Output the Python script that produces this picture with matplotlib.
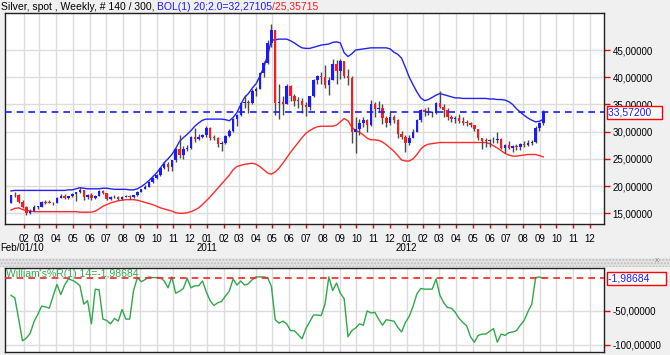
import matplotlib
matplotlib.use('Agg')
import matplotlib.pyplot as plt
import matplotlib.dates as mdates
import matplotlib.transforms as mtransforms
from matplotlib.patches import Rectangle
import numpy as np
import pandas as pd

plt.rcParams['font.family'] = ['Liberation Sans', 'DejaVu Sans']
plt.rcParams['font.size'] = 7

# ---- data (weekly silver spot bars, Friday dates) ----
week_start = '2010-01-08'
n_bars = 140

opens = [16.95, 18.38, 18.30, 17.10, 16.20, 15.00, 15.50, 16.10, 16.20, 17.10,
         16.95, 16.90, 16.80, 17.85, 18.20, 17.80, 18.10, 18.55, 18.95, 19.25,
         17.90, 18.40, 17.75, 18.20, 19.10, 18.70, 17.65, 18.00, 17.90, 17.70,
         18.00, 18.20, 18.00, 18.30, 19.00, 19.45, 19.90, 20.80, 21.40, 22.05,
         23.35, 24.10, 23.50, 24.75, 26.80, 25.80, 26.90, 27.00, 28.95, 28.60,
         28.95, 29.30, 30.60, 28.90, 28.80, 27.80, 27.90, 29.20, 30.15, 32.35,
         33.00, 35.30, 35.40, 35.20, 37.50, 37.90, 40.70, 42.60, 46.20, 48.60,
         35.30, 35.40, 35.10, 38.30, 36.50, 35.70, 35.60, 34.90, 34.50, 36.50,
         39.50, 40.20, 40.10, 38.60, 39.50, 42.50, 41.20, 42.90, 40.20, 39.80,
         30.00, 30.50, 31.50, 32.10, 31.30, 35.10, 34.20, 34.40, 32.50, 31.50,
         32.70, 32.10, 29.50, 29.00, 27.90, 28.90, 30.00, 32.20, 33.90, 33.70,
         33.40, 33.50, 35.30, 34.60, 34.00, 32.60, 32.40, 32.50, 32.00, 31.60,
         31.55, 31.20, 30.40, 28.80, 28.30, 28.25, 28.50, 28.40, 28.70, 27.00,
         27.50, 27.00, 27.30, 27.10, 27.80, 27.50, 28.00, 28.10, 30.70, 31.60]
highs = [18.45, 18.85, 18.55, 17.35, 16.30, 15.75, 16.45, 16.35, 17.20, 17.35,
         17.35, 17.10, 17.95, 18.50, 18.60, 18.25, 18.70, 19.00, 19.85, 19.35,
         18.60, 18.65, 18.35, 19.25, 19.30, 18.75, 18.20, 18.40, 18.10, 18.15,
         18.45, 18.40, 18.40, 19.05, 19.55, 20.20, 20.95, 21.60, 22.25, 23.55,
         24.50, 24.45, 24.85, 27.00, 29.30, 27.40, 27.60, 29.20, 30.70, 29.60,
         29.50, 30.95, 30.80, 29.40, 29.00, 28.20, 29.40, 30.40, 32.50, 33.20,
         35.40, 36.70, 35.80, 37.80, 38.20, 41.00, 43.00, 46.80, 49.80, 48.70,
         38.70, 36.60, 38.70, 38.50, 37.00, 36.40, 36.20, 35.40, 36.60, 39.70,
         40.40, 40.90, 42.30, 40.00, 43.40, 43.20, 43.40, 43.00, 41.50, 40.20,
         32.70, 32.40, 32.60, 32.30, 35.80, 35.40, 35.60, 35.00, 32.90, 33.60,
         33.00, 32.30, 30.10, 29.30, 29.40, 30.50, 32.40, 34.20, 34.40, 34.60,
         33.80, 35.50, 37.50, 35.00, 34.40, 33.00, 32.80, 33.20, 32.60, 32.20,
         31.80, 31.30, 30.50, 28.90, 28.90, 28.60, 29.10, 29.90, 28.90, 27.80,
         28.30, 27.60, 27.80, 28.00, 28.20, 28.50, 28.40, 31.00, 31.80, 33.90]
lows = [16.85, 17.95, 16.95, 16.05, 14.65, 14.95, 15.40, 15.70, 16.10, 16.70,
        16.80, 16.45, 16.80, 17.75, 17.60, 17.65, 17.95, 17.30, 18.80, 17.40,
        17.60, 17.40, 17.60, 18.15, 18.55, 17.45, 17.50, 17.85, 17.40, 17.35,
        17.90, 17.65, 17.80, 18.10, 18.90, 19.40, 19.80, 20.60, 21.30, 21.80,
        23.20, 22.75, 22.80, 24.50, 25.10, 24.90, 26.40, 26.80, 28.10, 28.40,
        28.80, 29.00, 28.50, 28.50, 27.25, 26.40, 27.80, 29.00, 30.00, 31.00,
        32.90, 34.40, 33.40, 35.10, 36.60, 37.80, 40.00, 42.40, 45.50, 33.00,
        32.30, 33.10, 35.00, 35.70, 34.70, 34.40, 33.40, 32.90, 34.00, 36.30,
        38.80, 38.70, 38.00, 36.80, 39.40, 38.70, 39.70, 39.80, 38.50, 28.00,
        26.10, 29.30, 30.90, 29.90, 31.00, 32.60, 33.70, 31.40, 30.80, 31.30,
        31.50, 28.90, 28.60, 26.20, 27.60, 28.80, 29.90, 31.80, 32.90, 33.00,
        32.60, 33.20, 34.40, 32.60, 32.20, 31.80, 31.50, 31.50, 31.20, 31.10,
        30.80, 30.20, 28.40, 26.80, 27.20, 27.20, 27.90, 28.00, 26.90, 26.10,
        26.80, 26.30, 26.60, 26.60, 27.10, 27.40, 27.60, 28.00, 30.10, 31.30]
closes = [18.38, 18.30, 17.10, 16.20, 15.00, 15.50, 16.10, 16.20, 17.10, 16.95,
          16.90, 16.80, 17.85, 18.20, 17.80, 18.10, 18.55, 18.95, 19.25, 17.90,
          18.40, 17.75, 18.20, 19.10, 18.70, 17.65, 18.00, 17.90, 17.70, 18.00,
          18.20, 18.00, 18.30, 19.00, 19.45, 19.90, 20.80, 21.40, 22.05, 23.35,
          24.10, 23.50, 24.75, 26.80, 25.80, 26.90, 27.00, 28.95, 28.60, 28.95,
          29.30, 30.60, 28.90, 28.80, 27.80, 27.90, 29.20, 30.15, 32.35, 33.00,
          35.30, 35.40, 35.20, 37.50, 37.90, 40.70, 42.60, 46.20, 48.60, 35.30,
          35.40, 35.10, 38.30, 36.50, 35.70, 35.60, 34.90, 34.50, 36.50, 39.50,
          40.20, 40.10, 38.60, 39.50, 42.50, 41.20, 42.90, 40.20, 39.80, 30.00,
          30.50, 31.50, 32.10, 31.30, 35.10, 34.20, 34.40, 32.50, 31.50, 32.70,
          32.10, 29.50, 29.00, 27.90, 28.90, 30.00, 32.20, 33.90, 33.70, 33.40,
          33.50, 35.30, 34.60, 34.00, 32.60, 32.40, 32.50, 32.00, 31.60, 31.55,
          31.20, 30.40, 28.80, 28.30, 28.25, 28.50, 28.40, 28.70, 27.00, 27.50,
          27.00, 27.30, 27.10, 27.80, 27.50, 28.00, 28.10, 30.70, 31.60, 33.572]

# Bollinger bands (20; 2.0)
bol_upper = [19.1, 19.2, 19.2, 19.2, 19.2, 19.2, 19.2, 19.2, 19.2, 19.2,
             19.2, 19.2, 19.2, 19.2, 19.2, 19.3, 19.3, 19.5, 19.7, 19.6,
             19.5, 19.5, 19.5, 19.5, 19.6, 19.6, 19.5, 19.4, 19.4, 19.4,
             19.4, 19.3, 19.3, 19.5, 19.9, 20.4, 21.0, 21.7, 22.4, 23.3,
             24.3, 25.0, 25.8, 26.9, 28.2, 28.9, 29.5, 30.2, 31.0, 31.6,
             32.1, 32.3, 32.3, 32.3, 32.3, 32.3, 32.2, 32.0, 32.6, 33.5,
             35.0, 36.3, 37.0, 38.0, 38.8, 40.2, 41.8, 44.0, 46.8, 46.9,
             47.0, 47.0, 47.0, 46.7, 46.3, 45.8, 45.4, 45.3, 45.3, 45.5,
             45.7, 45.9, 46.0, 46.1, 46.4, 46.5, 46.3, 44.5, 43.8, 44.3,
             45.0, 45.1, 45.2, 45.3, 45.4, 45.4, 45.4, 45.4, 45.4, 45.2,
             44.6, 44.2, 43.5, 41.8, 40.0, 38.6, 37.3, 36.2, 35.7, 35.9,
             36.3, 36.7, 37.0, 36.8, 36.6, 36.4, 36.2, 36.2, 36.1, 36.1,
             36.1, 36.1, 36.1, 36.1, 36.1, 36.0, 36.0, 35.9, 35.9, 35.8,
             35.5, 35.0, 34.2, 33.6, 33.0, 32.5, 32.1, 31.8, 31.9, 32.27105]
bol_lower = [15.6, 15.9, 16.0, 15.7, 15.5, 15.4, 15.3, 15.3, 15.3, 15.3,
             15.3, 15.3, 15.3, 15.3, 15.3, 15.3, 15.3, 15.3, 15.2, 15.2,
             15.2, 15.2, 15.4, 15.8, 16.3, 16.6, 16.9, 17.1, 17.3, 17.4,
             17.5, 17.5, 17.5, 17.4, 17.2, 17.0, 16.8, 16.6, 16.3, 16.0,
             15.8, 15.6, 15.4, 15.1, 15.0, 15.0, 15.1, 15.3, 15.6, 16.0,
             16.6, 17.3, 18.0, 18.8, 19.6, 20.4, 21.2, 22.0, 23.0, 23.6,
             23.8, 24.0, 24.1, 24.2, 24.0, 23.6, 23.0, 22.4, 22.2, 22.6,
             23.3, 24.2, 25.2, 26.2, 27.1, 28.0, 28.9, 29.7, 30.2, 30.6,
             30.9, 31.0, 31.0, 31.0, 31.0, 31.2, 31.8, 32.4, 32.0, 30.8,
             30.2, 29.9, 29.4, 28.8, 28.5, 28.5, 28.4, 28.1, 27.6, 27.0,
             26.4, 25.6, 24.8, 24.6, 24.6, 25.0, 25.8, 26.8, 27.4, 27.7,
             27.8, 27.9, 28.0, 28.0, 28.0, 28.0, 28.0, 28.0, 28.0, 28.0,
             28.0, 28.0, 28.0, 28.0, 28.0, 27.8, 27.4, 27.0, 26.5, 26.0,
             25.7, 25.5, 25.5, 25.6, 25.7, 25.8, 25.8, 25.8, 25.6, 25.35715]

# Williams %R (14)
will_r = [-27, -31, -62, -94, -90, -83, -66, -55, -43, -44,
          -46, -28, -11, -26, -12, -3, -5, -8, -13, -40,
          -35, -69, -18, -19, -62, -64, -69, -61, -65, -48,
          -62, -62, -20, -1, -7, -4, 0, -1, -1, -1,
          -6, -16, 0, -24, -21, -17, -2, -16, -13, -13,
          -6, -22, -35, -42, -38, -36, -28, -21, -3, -12,
          -6, -12, -10, -4, 0, 0, 0, -1, -14, -63,
          -68, -65, -69, -79, -79, -85, -91, -76, -66, -56,
          -56, -57, -40, 0, -20, -9, -24, -32, -88, -79,
          -75, -69, -71, -50, -53, -52, -62, -71, -63, -64,
          -65, -74, -81, -67, -58, -43, -25, -17, -18, -18,
          -18, -3, -27, -38, -45, -46, -52, -61, -67, -72,
          -88, -96, -86, -84, -84, -80, -76, -96, -84, -86,
          -82, -81, -79, -71, -64, -51, -40, -1, 0, -1.98684]

price_ticks = [15, 20, 25, 30, 35, 40, 45]
wr_ticks = [-50, -100]
last_price = closes[-1]
last_wr = will_r[-1]

def fmt(v):
    return ('%.5f' % v).replace('.', ',')

# ---- figure ----
W, H = 670, 355
fig = plt.figure(figsize=(W / 100, H / 100), dpi=100, facecolor='#f0f0f0')

def px_box(l, t, r, b):
    return [l / W, 1 - b / H, (r - l) / W, (b - t) / H]

ax = fig.add_axes(px_box(5, 13, 604, 224))
ax2 = fig.add_axes(px_box(5, 268, 604, 352))

dates = pd.date_range(week_start, periods=n_bars, freq='7D')
x = mdates.date2num(dates)
o = np.array(opens); h = np.array(highs); l = np.array(lows); c = np.array(closes)

xmin = mdates.date2num(pd.Timestamp('2009-12-28'))
xmax = mdates.date2num(pd.Timestamp('2012-12-27'))
months = mdates.date2num(pd.date_range('2010-02-01', '2012-12-01', freq='MS'))

for a in (ax, ax2):
    a.set_facecolor('white')
    a.set_xlim(xmin, xmax)
    a.set_xticks(months)
    a.grid(True, color='#dcdcdc', lw=1)
    a.set_axisbelow(True)
    a.yaxis.tick_right()
    a.tick_params(axis='both', colors='red', labelcolor='black', length=4, width=1,
                  direction='out', labelsize=7, pad=2)
    for s in a.spines.values():
        s.set_color('#202020')
        s.set_linewidth(1)

# main panel
ax.set_ylim(13.03, 51.8)
ax.set_yticks(price_ticks)
ax.set_yticklabels([fmt(v) for v in price_ticks])
ax.set_xticklabels([d.strftime('%m') for d in mdates.num2date(months)])
ax.tick_params(axis='x', length=3, pad=4)

ax.plot(x, bol_upper, color='#2222ee', lw=1, zorder=2)
ax.plot(x, bol_lower, color='#ff2a2a', lw=1, zorder=2)

up = c >= o
body = np.abs(c - o)
body = np.where(body < 0.15, 0.15, body)
ax.vlines(x, l, h, color='#4a4a4a', lw=1, zorder=3)
ax.bar(x[up], body[up], bottom=np.minimum(o, c)[up], width=4.6, color='#1a1aff', zorder=4)
ax.bar(x[~up], body[~up], bottom=np.minimum(o, c)[~up], width=4.6, color='#ff1a1a', zorder=4)

ax.axhline(last_price, color='#1a1aff', lw=1.2, ls=(0, (4, 3)), zorder=5)
ax.text(1.007, last_price, fmt(last_price) + '   ', transform=mtransforms.blended_transform_factory(ax.transAxes, ax.transData),
        ha='left', va='center', color='#1a1aff', fontsize=7.5,
        bbox=dict(boxstyle='square,pad=0.15', fc='white', ec='red', lw=1), clip_on=False)

# lower panel
ax2.set_ylim(-110.4, 13.1)
ax2.set_yticks(wr_ticks)
ax2.set_yticklabels([fmt(v) for v in wr_ticks])
ax2.set_xticklabels([])
ax2.tick_params(axis='x', length=0)
ax2.plot(x, will_r, color='#2fa84a', lw=1, zorder=3)
ax2.axhline(last_wr, color='#ff2020', lw=1.2, ls=(0, (4, 3)), zorder=4)
ax2.text(1.007, last_wr, fmt(last_wr) + '     ', transform=mtransforms.blended_transform_factory(ax2.transAxes, ax2.transData),
         ha='left', va='center', color='#1a1aff', fontsize=7.5,
         bbox=dict(boxstyle='square,pad=0.15', fc='white', ec='red', lw=1), clip_on=False)
ax2.text(0.002, 0.93, "William's%R(1) 14=" + fmt(last_wr).replace(',', ',', 1), transform=ax2.transAxes,
         ha='left', va='center', color='#2fa84a', fontsize=7.5, zorder=5)

# date captions under the months
yt = mtransforms.blended_transform_factory(ax.transData, fig.transFigure)
fig.text(0.0, 1 - 248 / H, 'Feb/01/10', ha='left', va='center', fontsize=7)
for yr in ['2011', '2012']:
    ax.text(mdates.date2num(pd.Timestamp(yr + '-01-01')), 1 - 248 / H, yr, transform=yt,
            ha='center', va='center', fontsize=7, clip_on=False)

# dotted separator strip
fig.add_artist(Rectangle((0, 1 - 267 / H), 1, 9 / H, transform=fig.transFigure,
                         facecolor='#e4e4e4', edgecolor='#bdbdbd', hatch='.....', lw=0))
fig.text(657 / W, 1 - 261 / H, 'x', color='#888888', fontsize=6, ha='center', va='center')

# header with coloured parts
r = fig.canvas.get_renderer()
xpos = 1 / W
for s, col in [('Silver, spot , Weekly, # 140 / 300, ', 'black'),
               ('BOL(1) 20;2.0=' + fmt(bol_upper[-1]), '#1a1aff'),
               ('/' + fmt(bol_lower[-1]), '#ff1a1a')]:
    t = fig.text(xpos, 1 - 6.5 / H, s, color=col, ha='left', va='center', fontsize=7.5)
    xpos += t.get_window_extent(renderer=r).width / W

fig.savefig('out.png', dpi=100, facecolor=fig.get_facecolor())
